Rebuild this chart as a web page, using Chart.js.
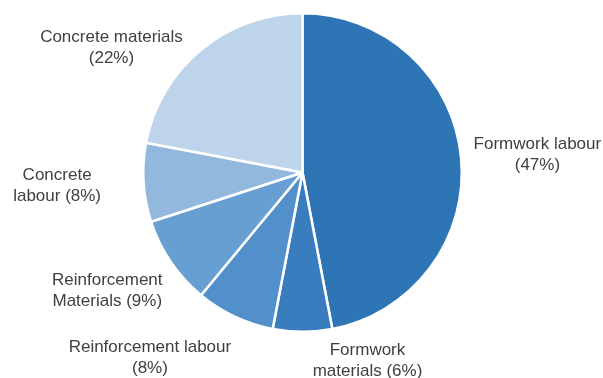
<!DOCTYPE html>
<html lang="en">
    <head>
        <meta charset="UTF-8">
        <script src="https://cdn.jsdelivr.net/npm/chart.js"></script>
        <style>
            html, body { margin: 0; padding: 0; background: #fff; }
            #wrap { width: 603px; height: 378px; }
        </style>
    </head>
    <body>
        <div id="wrap"><canvas id="costChart"></canvas></div>
        <script type="text/javascript" charset="utf-8">
            // data, clockwise from 12 o'clock
            const labels = ['Formwork labour', 'Formwork materials', 'Reinforcement labour', 'Reinforcement Materials', 'Concrete labour', 'Concrete materials'];
            const shares = [47, 6, 8, 9, 8, 22];
            const labelLines = [
                ['Formwork labour', '(47%)'],
                ['Formwork', 'materials (6%)'],
                ['Reinforcement labour', '(8%)'],
                ['Reinforcement', 'Materials (9%)'],
                ['Concrete', 'labour (8%)'],
                ['Concrete materials', '(22%)']
            ];
            const colors = ['#2e75b6', '#3a7dbf', '#5190ca', '#679fd2', '#93b8dd', '#bed4ea'];

            // where each label sits: distance from centre (x radius) and a nudge
            const labelDist = [1.45, 1.12, 1.1, 1.3, 1.5, 1.35];
            const labelNudge = [[5, 4], [65, 10], [-78, 27], [-24, 2], [-7, -2], [-54, 41]];

            const outsideLabels = {
                id: 'outsideLabels',
                afterDraw(chart) {
                    const ctx = chart.ctx;
                    const meta = chart.getDatasetMeta(0);
                    ctx.save();
                    ctx.font = '17px "Liberation Sans", Arial, sans-serif';
                    ctx.fillStyle = '#404040';
                    ctx.textAlign = 'center';
                    ctx.textBaseline = 'middle';
                    meta.data.forEach((arc, i) => {
                        const p = arc.getProps(['x', 'y', 'startAngle', 'endAngle', 'outerRadius'], true);
                        const mid = (p.startAngle + p.endAngle) / 2;
                        const r = p.outerRadius * labelDist[i];
                        const x = p.x + Math.cos(mid) * r + labelNudge[i][0];
                        const y = p.y + Math.sin(mid) * r + labelNudge[i][1];
                        const lines = labelLines[i];
                        lines.forEach((t, k) => {
                            ctx.fillText(t, x, y + (k - (lines.length - 1) / 2) * 21);
                        });
                    });
                    ctx.restore();
                }
            };

            new Chart(document.getElementById('costChart'), {
                type: 'pie',
                data: {
                    labels: labels,
                    datasets: [{
                        data: shares,
                        backgroundColor: colors,
                        borderColor: '#ffffff',
                        borderWidth: 2.5
                    }]
                },
                options: {
                    responsive: true,
                    maintainAspectRatio: false,
                    animation: false,
                    layout: { padding: { top: 12, bottom: 45, left: 2, right: 0 } },
                    plugins: {
                        legend: { display: false },
                        tooltip: { enabled: false }
                    }
                },
                plugins: [outsideLabels]
            });
        </script>
    </body>
</html>
